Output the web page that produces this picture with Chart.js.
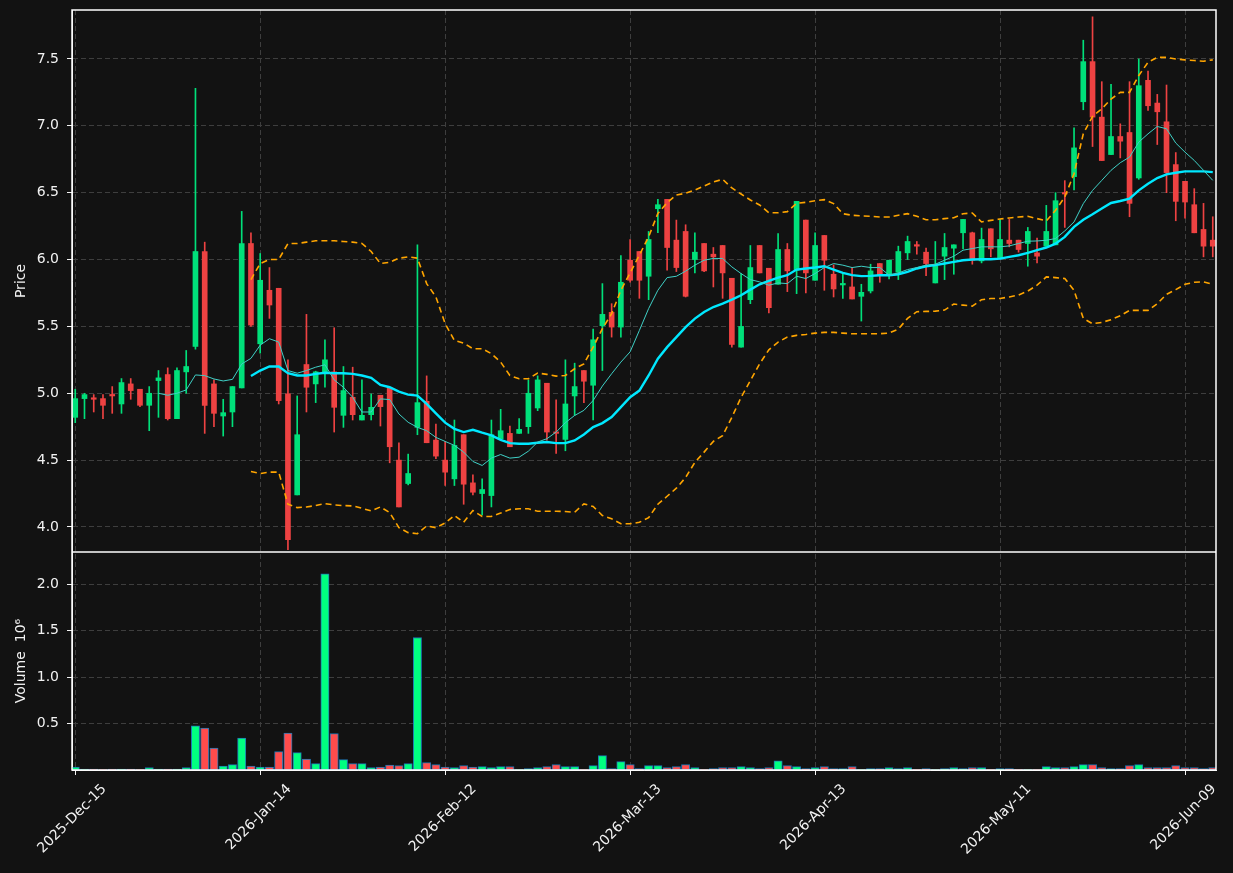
<!DOCTYPE html>
<html>
<head>
<meta charset="utf-8">
<script src="https://cdn.jsdelivr.net/npm/chart.js@4.4.1/dist/chart.umd.min.js"></script>
<style>
  html, body { margin: 0; padding: 0; background: #121212; }
</style>
</head>
<body>
<canvas id="chart" width="1233" height="873"></canvas>
<script>
// x ticks (trading-day index) and their date labels
const tickPos = [0, 20, 40, 60, 80, 100, 120];
const tickLabels = ["2025-Dec-15", "2026-Jan-14", "2026-Feb-12", "2026-Mar-13", "2026-Apr-13", "2026-May-11", "2026-Jun-09"];
const priceTicks = [4.0, 4.5, 5.0, 5.5, 6.0, 6.5, 7.0, 7.5];
const volTicks = [0.5, 1.0, 1.5, 2.0];

// daily candles
const openP = [4.82, 4.96, 4.965, 4.96, 4.99, 4.92, 5.07, 5.03, 4.91, 5.095,
  5.14, 4.81, 5.16, 5.35, 6.06, 5.07, 4.83, 4.86, 5.04, 6.12,
  5.37, 5.77, 5.785, 4.995, 4.24, 5.215, 5.07, 5.16, 5.16, 4.835,
  4.97, 4.80, 4.84, 4.985, 5.04, 4.50, 4.325, 4.745, 4.94, 4.65,
  4.50, 4.36, 4.69, 4.33, 4.25, 4.235, 4.66, 4.70, 4.70, 4.75,
  4.89, 5.075, 4.71, 4.655, 4.98, 5.17, 5.06, 5.505, 5.605, 5.495,
  5.995, 6.06, 5.875, 6.38, 6.45, 6.145, 6.21, 6.00, 6.12, 6.04,
  6.105, 5.86, 5.345, 5.70, 6.105, 5.935, 5.815, 6.075, 5.92, 6.295,
  5.845, 6.18, 5.89, 5.81, 5.795, 5.725, 5.765, 5.97, 5.89, 5.905,
  6.05, 6.11, 6.055, 5.825, 6.025, 6.085, 6.20, 6.20, 5.99, 6.23,
  6.005, 6.145, 6.145, 6.12, 6.05, 6.10, 6.11, 6.50, 6.62, 7.18,
  7.48, 7.065, 6.785, 6.92, 6.95, 6.61, 7.34, 7.17, 7.03, 6.71,
  6.585, 6.41, 6.225, 6.145];
const highP = [5.03, 5.00, 4.99, 4.99, 5.05, 5.11, 5.11, 5.03, 5.05, 5.17,
  5.19, 5.19, 5.32, 7.28, 6.13, 5.10, 4.955, 5.05, 6.36, 6.20,
  6.045, 5.94, 5.785, 5.25, 4.98, 5.59, 5.165, 5.40, 5.49, 5.20,
  5.195, 5.10, 4.995, 4.985, 5.04, 4.63, 4.545, 6.11, 5.13, 4.77,
  4.64, 4.80, 4.69, 4.39, 4.36, 4.80, 4.88, 4.755, 4.81, 5.10,
  5.13, 5.075, 4.95, 5.25, 5.225, 5.17, 5.48, 5.82, 5.67, 6.03,
  6.15, 6.06, 6.21, 6.45, 6.45, 6.295, 6.26, 6.20, 6.12, 6.09,
  6.105, 5.86, 5.895, 6.105, 6.105, 5.935, 6.195, 6.12, 6.435, 6.295,
  6.20, 6.18, 5.96, 5.895, 5.94, 5.815, 5.965, 5.97, 5.995, 6.10,
  6.175, 6.135, 6.085, 6.135, 6.195, 6.11, 6.30, 6.205, 6.235, 6.23,
  6.30, 6.30, 6.145, 6.24, 6.16, 6.405, 6.50, 6.59, 6.985, 7.64,
  7.815, 7.33, 7.31, 7.015, 7.33, 7.50, 7.41, 7.235, 7.305, 6.80,
  6.585, 6.53, 6.42, 6.32];
const lowP = [4.78, 4.81, 4.86, 4.81, 4.85, 4.85, 4.955, 4.90, 4.72, 4.82,
  4.80, 4.81, 5.00, 5.33, 4.70, 4.75, 4.68, 4.75, 5.04, 5.50,
  5.30, 5.56, 4.92, 3.83, 4.24, 4.86, 4.93, 5.045, 4.71, 4.745,
  4.80, 4.80, 4.80, 4.755, 4.48, 4.15, 4.315, 4.69, 4.63, 4.51,
  4.31, 4.31, 4.17, 4.24, 4.09, 4.15, 4.66, 4.60, 4.70, 4.70,
  4.87, 4.65, 4.55, 4.57, 4.835, 4.93, 4.80, 5.17, 5.42, 5.42,
  5.83, 5.71, 5.70, 6.20, 5.92, 5.91, 5.72, 5.90, 5.91, 5.795,
  5.71, 5.345, 5.345, 5.67, 5.90, 5.60, 5.815, 5.76, 5.745, 5.75,
  5.845, 5.77, 5.72, 5.71, 5.705, 5.54, 5.75, 5.83, 5.855, 5.85,
  6.00, 6.04, 5.88, 5.825, 5.85, 5.89, 6.08, 5.965, 5.975, 6.02,
  6.005, 6.095, 6.055, 5.95, 5.975, 6.10, 6.11, 6.24, 6.52, 7.12,
  6.845, 6.74, 6.785, 6.76, 6.32, 6.60, 7.115, 6.86, 6.50, 6.29,
  6.31, 6.20, 6.02, 6.02];
const closeP = [4.96, 4.99, 4.955, 4.91, 4.98, 5.08, 5.02, 4.91, 5.00, 5.115,
  4.81, 5.17, 5.20, 6.06, 4.91, 4.85, 4.855, 5.05, 6.12, 5.51,
  5.845, 5.66, 4.945, 3.905, 4.69, 5.045, 5.16, 5.25, 4.895, 5.02,
  4.84, 4.835, 4.895, 4.90, 4.60, 4.15, 4.40, 4.93, 4.63, 4.53,
  4.41, 4.61, 4.32, 4.26, 4.28, 4.69, 4.72, 4.60, 4.73, 5.00,
  5.10, 4.71, 4.70, 4.92, 5.05, 5.09, 5.40, 5.59, 5.495, 5.83,
  5.845, 5.845, 6.15, 6.41, 6.09, 5.94, 5.725, 6.055, 5.915, 6.02,
  5.90, 5.365, 5.50, 5.94, 5.90, 5.64, 6.075, 5.915, 6.435, 5.90,
  6.105, 5.995, 5.78, 5.82, 5.705, 5.755, 5.915, 5.885, 5.995, 6.06,
  6.135, 6.10, 5.97, 5.95, 6.09, 6.11, 6.30, 5.995, 6.15, 6.08,
  6.15, 6.12, 6.075, 6.21, 6.025, 6.21, 6.44, 6.49, 6.835, 7.48,
  7.065, 6.74, 6.92, 6.885, 6.42, 7.30, 7.15, 7.105, 6.65, 6.435,
  6.43, 6.20, 6.10, 6.10];
// volume in millions
const volM = [0.032, 0.011, 0.011, 0.004, 0.011, 0.011, 0.011, 0.004, 0.025, 0.011,
  0.011, 0.011, 0.025, 0.475, 0.453, 0.237, 0.043, 0.058, 0.345, 0.043,
  0.032, 0.032, 0.198, 0.399, 0.187, 0.119, 0.068, 2.115, 0.392, 0.112,
  0.068, 0.068, 0.025, 0.032, 0.054, 0.047, 0.068, 1.428, 0.079, 0.058,
  0.032, 0.025, 0.047, 0.032, 0.036, 0.025, 0.036, 0.036, 0.004, 0.014,
  0.025, 0.036, 0.058, 0.036, 0.036, 0.004, 0.047, 0.155, 0.014, 0.09,
  0.058, 0.014, 0.047, 0.047, 0.025, 0.036, 0.058, 0.025, 0.004, 0.014,
  0.025, 0.025, 0.036, 0.025, 0.014, 0.025, 0.10, 0.047, 0.036, 0.014,
  0.025, 0.036, 0.014, 0.014, 0.036, 0.004, 0.014, 0.014, 0.025, 0.014,
  0.025, 0.004, 0.014, 0.004, 0.014, 0.025, 0.014, 0.025, 0.025, 0.004,
  0.014, 0.014, 0.004, 0.004, 0.004, 0.036, 0.025, 0.025, 0.036, 0.058,
  0.058, 0.025, 0.014, 0.014, 0.047, 0.058, 0.025, 0.025, 0.025, 0.047,
  0.025, 0.025, 0.014, 0.025];

// moving averages and bands (first value at the given index)
const ma10Start = 9;
const ma10 = [5.00, 4.985, 5.00, 5.025, 5.137, 5.132, 5.107, 5.092, 5.104, 5.219,
  5.261, 5.36, 5.408, 5.383, 5.17, 5.15, 5.17, 5.195, 5.213, 5.10,
  5.045, 4.97, 4.86, 4.86, 4.958, 4.953, 4.845, 4.783, 4.745, 4.72,
  4.67, 4.64, 4.61, 4.56, 4.49, 4.46, 4.515, 4.542, 4.515, 4.522,
  4.567, 4.635, 4.66, 4.71, 4.78, 4.834, 4.872, 4.946, 5.054, 5.146,
  5.233, 5.31, 5.47, 5.633, 5.77, 5.865, 5.875, 5.913, 5.958, 5.995,
  6.008, 6.008, 5.945, 5.895, 5.85, 5.833, 5.808, 5.825, 5.82, 5.875,
  5.858, 5.895, 5.94, 5.97, 5.958, 5.94, 5.95, 5.94, 5.94, 5.883,
  5.90, 5.925, 5.94, 5.958, 5.965, 5.995, 6.025, 6.07, 6.082, 6.095,
  6.095, 6.095, 6.102, 6.12, 6.137, 6.139, 6.144, 6.157, 6.214, 6.281,
  6.418, 6.517, 6.592, 6.667, 6.724, 6.766, 6.878, 6.94, 6.995, 6.978,
  6.871, 6.803, 6.741, 6.667, 6.592];
const ma20Start = 19;
const ma20 = [5.129, 5.17, 5.20, 5.20, 5.15, 5.133, 5.133, 5.145, 5.153, 5.15,
  5.15, 5.145, 5.133, 5.115, 5.063, 5.045, 5.013, 4.99, 4.983, 4.92,
  4.85, 4.78, 4.734, 4.71, 4.727, 4.705, 4.685, 4.652, 4.627, 4.622,
  4.622, 4.63, 4.635, 4.627, 4.627, 4.647, 4.692, 4.747, 4.777, 4.822,
  4.896, 4.97, 5.02, 5.133, 5.258, 5.345, 5.42, 5.495, 5.558, 5.608,
  5.645, 5.67, 5.70, 5.733, 5.775, 5.815, 5.84, 5.865, 5.883, 5.925,
  5.933, 5.94, 5.95, 5.925, 5.90, 5.883, 5.876, 5.878, 5.883, 5.883,
  5.89, 5.908, 5.933, 5.95, 5.958, 5.97, 5.983, 5.995, 6.00, 6.002,
  6.002, 6.007, 6.02, 6.032, 6.05, 6.07, 6.09, 6.119, 6.169, 6.244,
  6.298, 6.338, 6.381, 6.423, 6.438, 6.455, 6.517, 6.567, 6.609, 6.637,
  6.649, 6.659, 6.659, 6.659, 6.654];
const bbStart = 19;
const bbUpper = [5.85, 5.97, 6.00, 6.00, 6.12, 6.12, 6.13, 6.14, 6.14, 6.14,
  6.135, 6.13, 6.12, 6.06, 5.97, 5.98, 6.01, 6.02, 6.01, 5.82,
  5.72, 5.52, 5.395, 5.375, 5.333, 5.333, 5.296, 5.233, 5.133, 5.108,
  5.108, 5.151, 5.141, 5.128, 5.133, 5.183, 5.22, 5.345, 5.483, 5.595,
  5.77, 5.90, 6.033, 6.17, 6.345, 6.425, 6.483, 6.495, 6.52, 6.55,
  6.58, 6.60, 6.535, 6.49, 6.445, 6.408, 6.35, 6.35, 6.358, 6.42,
  6.428, 6.44, 6.448, 6.418, 6.343, 6.331, 6.326, 6.323, 6.318, 6.318,
  6.331, 6.343, 6.323, 6.298, 6.298, 6.306, 6.313, 6.343, 6.348, 6.281,
  6.293, 6.303, 6.311, 6.318, 6.323, 6.306, 6.289, 6.368, 6.468, 6.642,
  6.94, 7.07, 7.127, 7.20, 7.25, 7.25, 7.376, 7.475, 7.512, 7.512,
  7.50, 7.493, 7.488, 7.483, 7.493];
const bbLower = [4.415, 4.40, 4.41, 4.41, 4.17, 4.145, 4.15, 4.16, 4.175, 4.165,
  4.16, 4.158, 4.14, 4.12, 4.15, 4.108, 3.995, 3.958, 3.95, 4.008,
  3.995, 4.03, 4.086, 4.036, 4.123, 4.079, 4.079, 4.104, 4.131, 4.136,
  4.136, 4.118, 4.118, 4.118, 4.116, 4.11, 4.173, 4.153, 4.086, 4.061,
  4.024, 4.024, 4.035, 4.07, 4.17, 4.23, 4.29, 4.37, 4.483, 4.56,
  4.64, 4.683, 4.82, 4.97, 5.095, 5.22, 5.325, 5.383, 5.42, 5.433,
  5.44, 5.45, 5.455, 5.455, 5.45, 5.445, 5.445, 5.445, 5.445, 5.45,
  5.48, 5.56, 5.61, 5.612, 5.614, 5.622, 5.667, 5.659, 5.652, 5.70,
  5.709, 5.709, 5.72, 5.735, 5.764, 5.808, 5.87, 5.865, 5.858, 5.77,
  5.56, 5.52, 5.53, 5.55, 5.58, 5.62, 5.62, 5.62, 5.67, 5.74,
  5.775, 5.815, 5.83, 5.833, 5.816];

const txt = "#f2f2f2";
const gridCol = "#3e3e3e";
const upC = "#00e07a", downC = "#ee4242";
const upV = "#00ff80", downV = "#ff4c4c";
Chart.defaults.font.family = "DejaVu Sans";
Chart.defaults.font.size = 14;

const isUp = openP.map((o, i) => closeP[i] >= o);
const line = (arr, start) => arr.map((v, i) => ({ x: start + i, y: v }));

const wickData = openP.map((o, i) => ({ x: i, y: [lowP[i], highP[i]] }));
const bodyData = openP.map((o, i) => ({ x: i, y: [Math.min(o, closeP[i]), Math.max(o, closeP[i])] }));
const volData = volM.map((v, i) => ({ x: i, y: v }));

const frame = {
  id: "frame",
  beforeDraw(chart) {
    const ctx = chart.ctx;
    ctx.save();
    ctx.fillStyle = "#121212";
    ctx.fillRect(0, 0, chart.width, chart.height);
    ctx.restore();
  },
  afterDraw(chart) {
    const { ctx, chartArea: a, scales } = chart;
    ctx.save();
    ctx.strokeStyle = "#ffffff";
    ctx.lineWidth = 1.5;
    ctx.strokeRect(a.left, a.top, a.right - a.left, a.bottom - a.top);
    ctx.beginPath();
    ctx.moveTo(a.left, scales.vol.top);
    ctx.lineTo(a.right, scales.vol.top);
    ctx.stroke();
    ctx.restore();
  }
};

// keep the label half-heights from pushing the plot area around
const noPad = (s) => { s.paddingTop = 0; s.paddingBottom = 0; };

const yCommon = {
  type: "linear",
  position: "left",
  stack: "panes",
  afterFit: (s) => { s.width = 72; noPad(s); },
  grid: { color: gridCol, tickColor: txt, tickLength: 5, tickBorderDash: [] },
  border: { color: txt, dash: [5, 3] }
};

new Chart(document.getElementById("chart"), {
  type: "bar",
  data: {
    datasets: [
      { type: "line", label: "mav10", data: line(ma10, ma10Start), borderColor: "#3fd0c6", borderWidth: 1, pointRadius: 0, order: 0, yAxisID: "y" },
      { type: "line", label: "mav20", data: line(ma20, ma20Start), borderColor: "#00e8ff", borderWidth: 2.4, pointRadius: 0, order: 0, yAxisID: "y" },
      { type: "line", label: "bbUp", data: line(bbUpper, bbStart), borderColor: "#ffa500", borderWidth: 1.6, borderDash: [6, 4], pointRadius: 0, order: 0, yAxisID: "y" },
      { type: "line", label: "bbLow", data: line(bbLower, bbStart), borderColor: "#ffa500", borderWidth: 1.6, borderDash: [6, 4], pointRadius: 0, order: 0, yAxisID: "y" },
      { label: "body", data: bodyData, backgroundColor: isUp.map(u => u ? upC : downC), barThickness: 5, minBarLength: 1.5, grouped: false, order: 1, yAxisID: "y" },
      { label: "wick", data: wickData, backgroundColor: isUp.map(u => u ? upC : downC), barThickness: 1, grouped: false, order: 2, yAxisID: "y" },
      { label: "volume", data: volData, backgroundColor: isUp.map(u => u ? upV : downV), borderColor: "#1f77b4", borderWidth: 1, borderSkipped: false, barThickness: 8.3, grouped: false, order: 3, yAxisID: "vol" }
    ]
  },
  options: {
    responsive: false,
    animation: false,
    devicePixelRatio: 1,
    layout: { padding: { top: 10, right: 17, left: 0, bottom: 0 } },
    plugins: { legend: { display: false }, tooltip: { enabled: false } },
    scales: {
      x: {
        type: "linear",
        min: -0.35,
        max: 123.35,
        offset: false,
        afterBuildTicks: (s) => { s.ticks = tickPos.map(v => ({ value: v })); },
        afterFit: (s) => { s.height = 103; s.paddingLeft = 0; s.paddingRight = 0; },
        ticks: {
          color: txt, autoSkip: false, minRotation: 45, maxRotation: 45,
          labelOffset: 29, padding: 6,
          callback: (v, i) => tickLabels[i]
        },
        grid: { offset: false, color: gridCol, tickColor: txt, tickLength: 5, tickBorderDash: [] },
        border: { color: txt, dash: [5, 3] }
      },
      vol: Object.assign({}, yCommon, {
        stackWeight: 218,
        min: 0,
        max: 2.35,
        afterBuildTicks: (s) => { s.ticks = volTicks.map(v => ({ value: v })); },
        ticks: { color: txt, padding: 8, callback: (v) => v.toFixed(1) },
        title: { display: true, text: "Volume  10\u2076", color: txt, padding: { top: 13, bottom: 0 } }
      }),
      y: Object.assign({}, yCommon, {
        stackWeight: 542,
        min: 3.813,
        max: 7.866,
        afterBuildTicks: (s) => { s.ticks = priceTicks.map(v => ({ value: v })); },
        ticks: { color: txt, padding: 8, callback: (v) => v.toFixed(1) },
        title: { display: true, text: "Price", color: txt, padding: { top: 13, bottom: 0 } }
      })
    }
  },
  plugins: [frame]
});
</script>
</body>
</html>
